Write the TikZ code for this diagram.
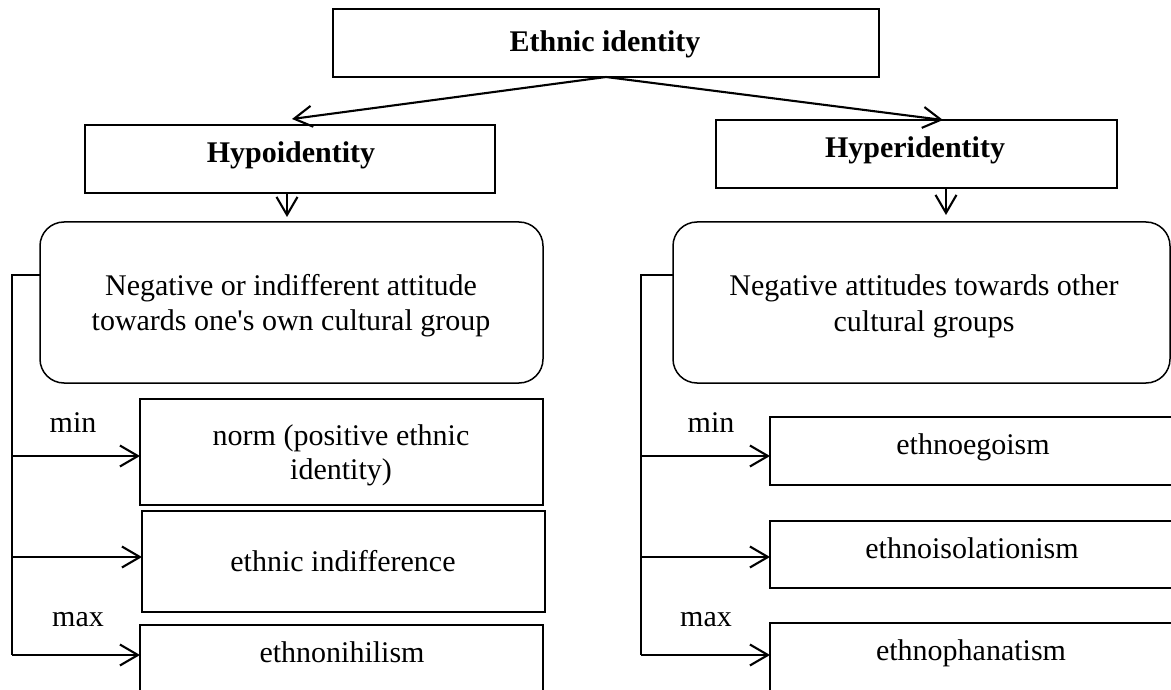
\documentclass[tikz,border=0pt]{standalone}
\usepackage{fontspec}
\setmainfont{Liberation Serif}
\usetikzlibrary{arrows.meta,calc}
\begin{document}
\begin{tikzpicture}[x=1pt,y=-1pt,
  box/.style={draw, line width=1.5pt, inner sep=0pt, outer sep=0pt},
  rbox/.style={box, rounded corners=24pt},
  txt/.style={inner sep=0pt, anchor=base, font=\fontsize{30}{35}\selectfont},
  btxt/.style={txt, font=\fontsize{30}{35}\selectfont\bfseries},
  conn/.style={line width=2.1pt, -{Straight Barb[length=18pt,width=21pt,line width=2.1pt]}},
  brk/.style={line width=2.1pt}]
\clip (0,0) rectangle (1171,690);
\useasboundingbox (0,0) rectangle (1171,690);
\fill[white] (0,0) rectangle (1171,690);

% boxes
\node[box, minimum width=546pt, minimum height=68pt] (E) at (606,43) {};
\node[box, minimum width=410pt, minimum height=68pt] (H) at (290,159) {};
\node[box, minimum width=401pt, minimum height=68pt] (R) at (916.5,154) {};
\node[rbox, minimum width=503pt, minimum height=161pt] (LR) at (291.5,302.5) {};
\node[rbox, minimum width=497pt, minimum height=161pt] (RR) at (921.5,302.5) {};
\node[box, minimum width=403pt, minimum height=106pt] (N1) at (341.5,452) {};
\node[box, minimum width=403pt, minimum height=101pt] (N2) at (343.5,561.5) {};
\node[box, minimum width=403pt, minimum height=95pt] (N3) at (341.5,672.5) {};
\node[box, minimum width=406pt, minimum height=68pt] (M1) at (973,451) {};
\node[box, minimum width=406pt, minimum height=67pt] (M2) at (973,554.5) {};
\node[box, minimum width=406pt, minimum height=97pt] (M3) at (973,671.5) {};

% texts
\node[btxt] (tE) at (605,52) {Ethnic identity};
\node[btxt] (tH) at (291,163) {Hypoidentity};
\node[btxt] (tR) at (915,158) {Hyperidentity};
\node[txt] (tL1) at (291,295) {Negative or indifferent attitude};
\node[txt] (tL2) at (291,330) {towards one\textquotesingle s own cultural group};
\node[txt] (tR1) at (924,295) {Negative attitudes towards other};
\node[txt] (tR2) at (924,331) {cultural groups};
\node[txt] (tN1a) at (341,445) {norm (positive ethnic};
\node[txt] (tN1b) at (341,479) {identity)};
\node[txt] (tN2) at (343,571) {ethnic indifference};
\node[txt] (tN3) at (342,662) {ethnonihilism};
\node[txt] (tM1) at (973,454) {ethnoegoism};
\node[txt] (tM2) at (972,558) {ethnoisolationism};
\node[txt] (tM3) at (971,660) {ethnophanatism};
\node[txt] (minL) at (73,432) {min};
\node[txt] (maxL) at (78,626) {max};
\node[txt] (minR) at (711,432) {min};
\node[txt] (maxR) at (706,626) {max};

% top connectors
\draw[conn] (E.south) -- ($(H.north)+(2,-6)$);
\draw[conn] (E.south) -- ($(R.north)+(26.5,0)$);
\draw[conn] ($(H.south)+(-3,0)$) -- ($(LR.north)+(-4.5,-5)$);
\draw[conn] ($(R.south)+(29.5,0)$) -- ($(RR.north)+(24.5,-7)$);

% left bracket
\coordinate (lb) at (12,275);
\coordinate (la1) at (12,456);
\coordinate (la2) at (12,557);
\coordinate (la3) at (12,655);
\draw[line width=2.8pt] (LR.west |- lb) -- (lb) -- (la2);
\draw[brk] (la2) -- (la3);
\draw[conn] (la1) -- (N1.west |- la1);
\draw[conn] (la2) -- (N2.west |- la2);
\draw[conn] (la3) -- (N3.west |- la3);

% right bracket
\coordinate (rb) at (641,275);
\coordinate (ra1) at (641,456);
\coordinate (ra2) at (641,557);
\coordinate (ra3) at (641,655);
\draw[brk] (RR.west |- rb) -- (rb) -- (ra3);
\draw[conn] (ra1) -- (M1.west |- ra1);
\draw[conn] (ra2) -- (M2.west |- ra2);
\draw[conn] (ra3) -- (M3.west |- ra3);
\end{tikzpicture}
\end{document}
